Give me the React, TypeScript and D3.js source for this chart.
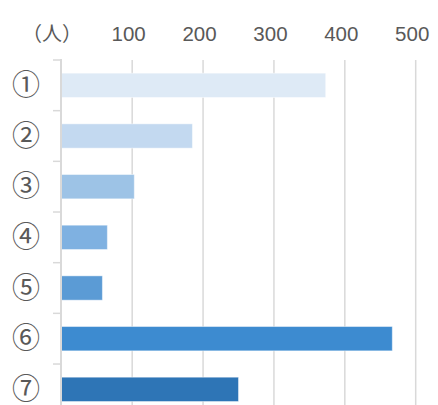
import React from "react";
import * as d3 from "d3";

const categories = ["①", "②", "③", "④", "⑤", "⑥", "⑦"];
const values = [373, 185, 103, 65, 58, 467, 250];
const colors = ["#DEEAF6", "#C3D9F0", "#9DC3E6", "#7FB1E1", "#5B9BD5", "#3D8BD0", "#2E75B6"];
const xTicks = [100, 200, 300, 400, 500];
const unitLabel = "（人）";

const W = 438;
const H = 405;

export default function App() {
  const x = d3.scaleLinear().domain([0, 500]).range([61.3, 415.7]);
  const y = d3
    .scaleBand<string>()
    .domain(categories)
    .range([60, 60 + 7 * 50.67])
    .paddingInner(0.52)
    .paddingOuter(0.26);
  const step = y.step();
  const bounds = d3.range(categories.length + 1).map((i) => 60 + i * step);
  const textColor = "#595959";
  const gridColor = "#D9D9D9";
  return (
    <svg
      width={W}
      height={H}
      style={{ position: "absolute", left: 0, top: 0, background: "#fff" }}
    >
      {xTicks.map((t) => (
        <line
          key={"g" + t}
          x1={x(t)}
          x2={x(t)}
          y1={60}
          y2={H}
          stroke={gridColor}
          strokeWidth={1.5}
        />
      ))}
      {categories.map((c, i) => (
        <rect
          key={"b" + c}
          x={x(0)}
          y={y(c)}
          width={x(values[i]) - x(0)}
          height={y.bandwidth()}
          fill={colors[i]}
          stroke="#ffffff"
          strokeOpacity={0.45}
          strokeWidth={1}
        />
      ))}
      <line x1={61} x2={61} y1={59} y2={H} stroke={gridColor} strokeWidth={2} />
      {bounds.map((b, i) => (
        <line key={"t" + i} x1={53} x2={61} y1={b} y2={b} stroke={gridColor} strokeWidth={1.5} />
      ))}
      {categories.map((c) => (
        <text
          key={"l" + c}
          x={26}
          y={(y(c) as number) + y.bandwidth() / 2}
          dy="0.34em"
          textAnchor="middle"
          fontSize={28}
          fontFamily="'Noto Sans CJK JP', sans-serif"
          fill={textColor}
        >
          {c}
        </text>
      ))}
      {xTicks.map((t) => (
        <text
          key={"x" + t}
          x={x(t) - 3.5}
          y={41}
          textAnchor="middle"
          fontSize={20.5}
          fontFamily="'Liberation Sans', sans-serif"
          fill={textColor}
        >
          {t}
        </text>
      ))}
      <text
        x={52}
        y={41}
        textAnchor="middle"
        fontSize={20}
        fontFamily="'Noto Sans CJK JP', sans-serif"
        fill={textColor}
      >
        {unitLabel}
      </text>
    </svg>
  );
}
